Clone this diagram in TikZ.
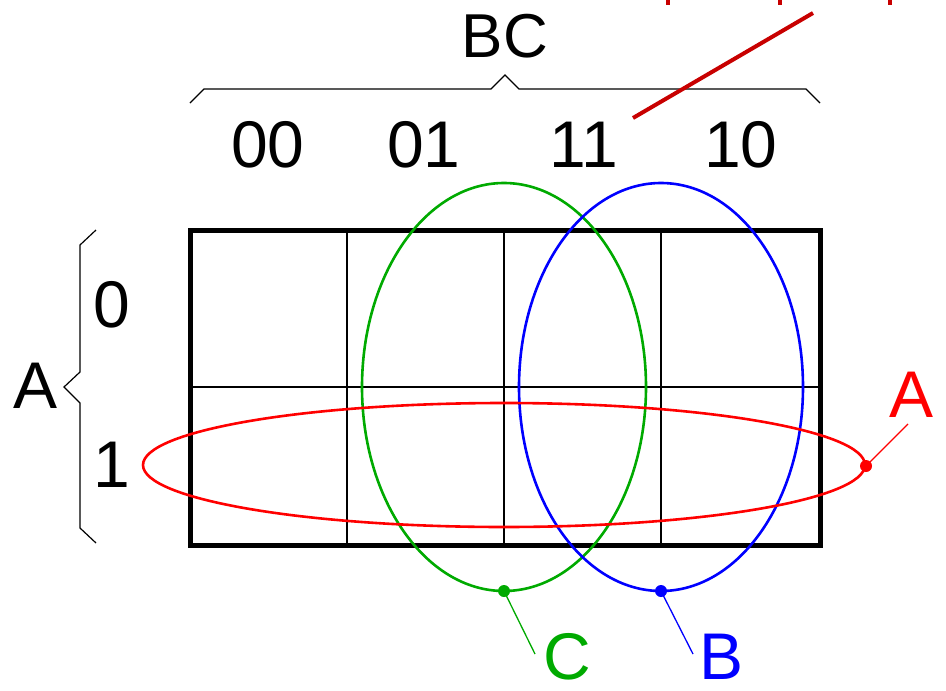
\documentclass[tikz,border=0pt]{standalone}
\usepackage{fontspec}
\setmainfont{Liberation Sans}
\definecolor{kred}{RGB}{255,0,0}
\definecolor{kgreen}{RGB}{0,170,0}
\definecolor{kblue}{RGB}{0,0,255}
\definecolor{kdark}{RGB}{200,0,0}
\begin{document}
\begin{tikzpicture}[x=1pt,y=-1pt,
  lbl/.style={font=\fontsize{66}{66}\selectfont, inner sep=0pt, anchor=center},
  grid/.style={line width=2.6pt, black},
  brace/.style={line width=1.2pt, black},
  loop/.style={line width=2.6pt},
  lead/.style={line width=1.3pt},
  dot/.style={circle, fill, inner sep=0pt, minimum size=12pt}]
\useasboundingbox (0,0) rectangle (946,691);
% grid
\foreach \x in {347,504,661} \draw[grid] (\x,230) -- (\x,545);
\draw[grid] (190,387) -- (820,387);
\draw[line width=5pt] (190,230) rectangle (820,545);
% column labels
\node[lbl] (c00) at (268,145) {00};
\node[lbl] (c01) at (424,145) {01};
\node[lbl] (c11) at (584,145) {11};
\node[lbl] (c10) at (741,145) {10};
\node[lbl, font=\fontsize{62}{62}\selectfont] (bc) at (505,36) {BC};
% row labels
\node[lbl] (r0) at (112,305) {0};
\node[lbl] (r1) at (112,465) {1};
\node[lbl] (avar) at (36,386) {A};
% braces
\draw[brace] (190,103) -- (204,89) -- (491,89) -- (505,75) -- (519,89) -- (806,89) -- (820,103);
\draw[brace] (96,230) -- (80,245) -- (80,372) -- (64,387) -- (80,403) -- (80,528) -- (96,543);
% loops
\draw[loop, kgreen] (504,387) ellipse [x radius=142, y radius=204];
\draw[loop, kblue] (661,387) ellipse [x radius=142, y radius=204];
\draw[loop, kred] (504,465) ellipse [x radius=361, y radius=62];
% dots and labels
\node[dot, kred] (da) at (866,466) {};
\node[dot, kgreen] (dc) at (504,591) {};
\node[dot, kblue] (db) at (661,591) {};
\node[lbl, kred] (la) at (912,395) {A};
\node[lbl, kgreen] (lc) at (567,657) {C};
\node[lbl, kblue] (lb) at (722,657) {B};
\coordinate (ea) at (908,424);
\coordinate (ec) at (535,654);
\coordinate (eb) at (693,654);
\draw[lead, kred] (da.center) -- (ea);
\draw[lead, kgreen] (dc.center) -- (ec);
\draw[lead, kblue] (db.center) -- (eb);
% dark red pointer and cut-off ticks
\coordinate (p1) at (633,118);
\coordinate (p2) at (813,13);
\draw[line width=4pt, kdark] (p1) -- (p2);
\foreach \x in {668,780,890} \draw[line width=4pt, kdark] (\x,-2) -- (\x,5);
\end{tikzpicture}
\end{document}
